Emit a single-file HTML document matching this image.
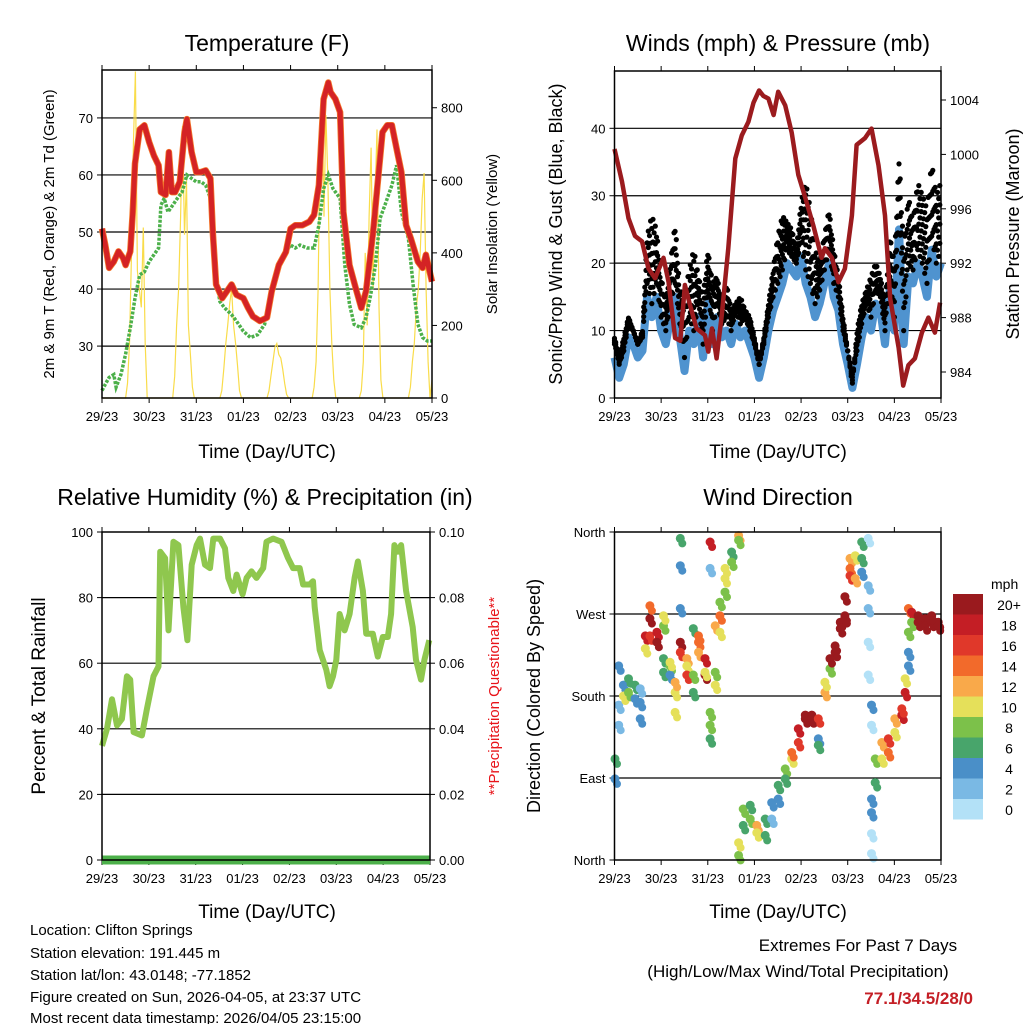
<!DOCTYPE html>
<html><head><meta charset="utf-8"><style>
body{margin:0;background:#fff}
svg{display:block;font-family:"Liberation Sans",sans-serif}
</style></head><body>
<svg id="s" width="1024" height="1024" viewBox="0 0 1024 1024" xmlns="http://www.w3.org/2000/svg">
<rect width="1024" height="1024" fill="#fff"/>
<text x="267" y="51" font-size="23" text-anchor="middle">Temperature (F)</text>
<text x="778" y="51" font-size="23" text-anchor="middle">Winds (mph) &amp; Pressure (mb)</text>
<text x="265" y="505" font-size="23" text-anchor="middle">Relative Humidity (%) &amp; Precipitation (in)</text>
<text x="778" y="505" font-size="23" text-anchor="middle">Wind Direction</text>
<g font-size="19" text-anchor="middle">
<text x="267" y="458">Time (Day/UTC)</text>
<text x="778" y="458">Time (Day/UTC)</text>
<text x="267" y="918">Time (Day/UTC)</text>
<text x="778" y="918">Time (Day/UTC)</text>
</g>
<text transform="translate(54,234) rotate(-90)" font-size="15" text-anchor="middle">2m &amp; 9m T (Red, Orange) &amp; 2m Td (Green)</text>
<text transform="translate(497,234) rotate(-90)" font-size="15" text-anchor="middle">Solar Insolation (Yellow)</text>
<text transform="translate(562,234) rotate(-90)" font-size="18" text-anchor="middle">Sonic/Prop Wind &amp; Gust (Blue, Black)</text>
<text transform="translate(1019,234) rotate(-90)" font-size="18" text-anchor="middle">Station Pressure (Maroon)</text>
<text transform="translate(45,696) rotate(-90)" font-size="19" text-anchor="middle">Percent &amp; Total Rainfall</text>
<text transform="translate(499,696) rotate(-90)" font-size="15" fill="#e8141a" text-anchor="middle">**Precipitation Questionable**</text>
<text transform="translate(540,696) rotate(-90)" font-size="18" text-anchor="middle">Direction (Colored By Speed)</text>
<g font-size="15">
<text x="30" y="935">Location: Clifton Springs</text>
<text x="30" y="958">Station elevation: 191.445 m</text>
<text x="30" y="980">Station lat/lon: 43.0148; -77.1852</text>
<text x="30" y="1002">Figure created on Sun, 2026-04-05, at 23:37 UTC</text>
<text x="30" y="1023">Most recent data timestamp: 2026/04/05 23:15:00</text>
</g>
<text x="858" y="951" font-size="17" text-anchor="middle">Extremes For Past 7 Days</text>
<text x="798" y="977" font-size="17" text-anchor="middle">(High/Low/Max Wind/Total Precipitation)</text>
<text x="973" y="1004" font-size="17" font-weight="bold" fill="#c41e25" text-anchor="end">77.1/34.5/28/0</text>
<text x="991" y="589" font-size="14">mph</text>
</svg>
<script>
const xDayLabels=["29/23","30/23","31/23","01/23","02/23","03/23","04/23","05/23"];
const tempDays=[0,0.07,0.15,0.25,0.35,0.45,0.5,0.6,0.65,0.7,0.8,0.9,1.0,1.1,1.2,1.25,1.35,1.42,1.48,1.55,1.65,1.75,1.8,1.9,2.0,2.1,2.2,2.3,2.35,2.42,2.55,2.65,2.75,2.85,3.0,3.1,3.2,3.35,3.5,3.6,3.75,3.9,4.0,4.1,4.25,4.4,4.5,4.6,4.7,4.8,4.85,4.95,5.05,5.12,5.25,5.4,5.5,5.6,5.75,5.85,5.95,6.05,6.15,6.25,6.35,6.45,6.55,6.7,6.8,6.87,6.95,7.0];
const tempVals=[50.6,47.7,43.7,44.8,46.6,45.4,44.2,46.6,53,62,68,68.7,65.8,63.4,61.7,57,56.5,64,57,57,58.8,67.5,69.8,64,60.5,60.5,60.8,59.4,50,40.8,38.4,39.6,40.8,39,38.4,36.7,35.2,34.4,35,39.6,44.2,46.5,50.6,51.2,51.2,51.8,53,58.2,73.3,76.2,74.5,73.3,71,53.5,44.2,39.6,36.7,39.6,50,58.8,67.5,68.7,68.7,64.6,60.5,51.2,48.9,44.8,43.7,46,43.1,41.3];
const dewDays=[0,0.07,0.15,0.25,0.3,0.4,0.5,0.6,0.7,0.8,0.9,1.0,1.1,1.2,1.25,1.32,1.4,1.5,1.6,1.7,1.8,1.9,2.0,2.1,2.2,2.3,2.35,2.42,2.5,2.6,2.75,2.85,3.0,3.15,3.3,3.45,3.6,3.75,3.85,4.0,4.1,4.2,4.35,4.5,4.6,4.7,4.8,4.9,5.05,5.15,5.25,5.35,5.5,5.6,5.7,5.8,5.9,6.0,6.15,6.25,6.35,6.5,6.6,6.7,6.8,6.9,7.0];
const dewVals=[22.2,23.3,24.5,25,22.8,25,28.6,33.2,38.4,42.5,43,44.8,46,47.2,54.7,55.9,53.5,54.7,55.9,57,60,59.4,58.8,58.8,58.2,55.9,50,42,37.8,36.7,35.5,34.4,32.6,31.5,32,33.8,39.6,44.2,46,47.7,47.2,47.7,47.2,47.2,51.2,57.6,60,57.6,55.9,44.2,37.3,33.8,33.2,35,39,44.2,52.4,54.7,58.2,61.7,53.5,48.9,40.8,33.8,31.5,30.9,30.9];
const solarHourly=[
0,0,0,0,0,0,0,0,0,0,0,0,0,40,150,400,700,900,350,300,250,470,150,0,
0,0,0,0,0,0,0,0,0,0,0,0,0,60,200,300,500,750,450,600,200,120,30,0,
0,0,0,0,0,0,0,0,0,0,0,0,0,20,80,150,200,260,300,200,150,90,20,0,
0,0,0,0,0,0,0,0,0,0,0,0,0,20,60,100,140,150,120,110,80,40,10,0,
0,0,0,0,0,0,0,0,0,0,0,0,30,100,300,700,830,500,780,600,300,150,50,0,
0,0,0,0,0,0,0,0,0,0,0,0,20,100,400,200,500,690,300,550,740,250,50,0,
0,0,0,0,0,0,0,0,0,0,0,0,0,30,100,150,250,300,400,550,620,300,100,0,50];
const windMean=[6,3,5,9,8,6,7,15,12,15,10,8,12,15,9,4,10,8,12,6,14,8,12,9,10,8,11,9,10,8,6,3,6,10,13,15,17,20,19,18,21,17,15,12,14,17,20,15,13,8,5,1.5,5,9,12,10,14,13,8,16,10,25,8,18,17,20,18,15,22,18,20];
const windGust=[9,6,9,12,10,8,10,24,27,25,18,14,20,26,16,15,19,22,18,15,22,17,18,14,17,13,14,15,13,12,9,5,9,14,19,24,27,26,25,22,29,32,28,22,20,24,28,22,18,12,7,2,10,14,16,18,20,18,14,24,20,36,22,30,26,32,30,28,35,30,32];
const presDays=[0,0.16,0.3,0.44,0.59,0.73,0.87,1.05,1.16,1.3,1.41,1.51,1.62,1.76,1.94,2.01,2.09,2.19,2.3,2.44,2.59,2.73,2.87,2.98,3.1,3.19,3.3,3.41,3.51,3.66,3.8,3.94,4.09,4.26,4.44,4.51,4.66,4.8,4.94,5.09,5.19,5.37,5.51,5.66,5.8,5.91,6.09,6.19,6.3,6.44,6.59,6.73,6.87,6.98];
const presVals=[1000.4,998,995.3,994,993.6,991.6,990.9,992.4,990.6,986.5,986.3,990.4,988.9,987.2,986.7,985.5,987.2,985,988.2,993.1,999.7,1001.4,1002.4,1003.8,1004.7,1004.3,1004.1,1002.9,1004.6,1003.6,1001.6,998.5,996.8,994.8,992.4,993.1,992.4,990.6,991.6,995.5,1000.7,1001.2,1001.9,999.2,995.5,989.4,985.8,983,984.5,985,986.9,988,986.9,989.1];
const rhZx=[5,20,35,50,65,80,90,100,125,140,160,175,180,195,205,220,235,250,262,275,290,300,315,330,340,360,375,385,400,410,428,440,455,470,490,500,520,545,565,580,600,610,630,640,645,660,680,690,700,710,720,735,750,765,775,790,800,820,835,850,865,875,885,895,905,920,940,950,965,975,990];
const rhVals=[34.8,40,49,41,43,56,55,39,38,46,56,59,94,92,70,97,96,77,67,90,96,98,90,89,98,98,95,86,82,87,81,86,88,86,89,97,98,97,92,89,89,84,84,85,77,64,58,53,56,61,75,70,75,86,91,82,69,69,62,68,68,75,96,94,96,82,71,61,55,61,67];
const precipVals=[0,0,0,0,0,0,0,0];
const dirDays=[0.01,0.01,0.09,0.09,0.09,0.19,0.19,0.3,0.3,0.44,0.44,0.55,0.55,0.55,0.66,0.66,0.76,0.76,0.76,0.91,0.91,1.05,1.05,1.05,1.05,1.19,1.19,1.19,1.3,1.3,1.3,1.41,1.41,1.41,1.41,1.41,1.55,1.55,1.55,1.69,1.69,1.69,1.8,1.8,1.8,1.94,1.94,1.94,2.05,2.05,2.05,2.05,2.05,2.16,2.16,2.16,2.26,2.26,2.26,2.37,2.37,2.37,2.51,2.51,2.66,2.66,2.66,2.66,2.76,2.76,2.91,2.91,3.05,3.05,3.23,3.23,3.37,3.37,3.51,3.51,3.66,3.66,3.8,3.8,3.94,3.94,4.09,4.09,4.23,4.23,4.37,4.37,4.37,4.51,4.51,4.62,4.62,4.73,4.73,4.84,4.84,4.94,4.94,4.94,5.05,5.05,5.05,5.16,5.16,5.3,5.3,5.3,5.44,5.44,5.44,5.44,5.44,5.51,5.51,5.51,5.51,5.51,5.51,5.59,5.59,5.73,5.73,5.87,5.87,6.01,6.01,6.16,6.16,6.23,6.23,6.3,6.3,6.3,6.3,6.37,6.37,6.51,6.51,6.66,6.66,6.8,6.8,6.94,6.94];
const dirVals=[111,89,148,170,213,192,180,199,184,192,177,155,173,188,246,232,265,246,279,250,239,257,221,206,268,213,203,217,184,162,195,239,228,276,353,323,221,213,203,184,203,254,239,228,246,221,203,206,162,148,133,349,320,206,192,257,268,250,283,320,309,294,338,327,356,351,5,19,38,56,60,45,38,30,45,27,63,45,82,67,100,89,111,118,129,144,155,159,159,155,155,133,126,184,195,210,221,235,228,254,261,268,265,289,331,320,312,309,334,331,316,349,301,276,239,203,353,170,148,67,52,29,7,111,85,129,111,118,133,140,155,159,166,184,199,213,228,250,276,272,261,268,261,265,257,261,268,261,257];
const dirSpeeds=[6,4,2,3,4,5,10,7,8,6,5,4,4,3,18,10,20,16,14,18,20,8,6,6,10,8,5,11,10,11,12,20,17,4,6,4,12,10,16,6,8,6,14,13,15,18,20,11,8,9,7,18,2,8,10,12,14,10,8,10,10,8,7,8,12,9,8,10,7,8,6,9,12,10,6,7,4,3,6,4,8,7,10,14,17,18,20,20,20,20,16,4,6,13,10,9,20,20,20,20,20,20,20,20,12,14,16,12,10,6,4,7,2,2,1,1,1,4,1,4,4,1,1,9,6,13,10,14,17,10,12,18,16,18,11,4,5,8,14,18,9,20,20,20,20,20,20,20,20];
const cbLabels=["20+","18","16","14","12","10","8","6","4","2","0"];
const cbColors=["#9a1a1e","#c41e25","#e0382a","#f26a2b","#f9a94a","#e5e05a","#7cc14a","#48a56b","#4a8fc8","#7ab9e4","#b3e1f7"];
const tempTicks=[30,40,50,60,70],solarTicks=[0,200,400,600,800],windTicks=[0,10,20,30,40],presTicks=[984,988,992,996,1000,1004],rhTicks=[0,20,40,60,80,100],precipTicks=["0.00","0.02","0.04","0.06","0.08","0.10"],dirLabels=["North","East","South","West","North"];

const S=document.getElementById('s'),NS='http://www.w3.org/2000/svg';
function mk(t,a,p){const e=document.createElementNS(NS,t);for(const k in a)e.setAttribute(k,a[k]);(p||S).appendChild(e);return e;}
function lin(d0,d1,r0,r1){return v=>r0+(v-d0)/(d1-d0)*(r1-r0);}
const P1={x0:102,x1:432,y0:70,y1:398},P2={x0:614.5,x1:941,y0:71,y1:398},P3={x0:102,x1:430,y0:532,y1:860},P4={x0:614.5,x1:941,y0:532,y1:860};
const xT=lin(0,7,P1.x0,P1.x1),yT=lin(20.9,78.4,P1.y1,P1.y0),ySol=lin(0,904,P1.y1,P1.y0);
const xW=lin(0,7,P2.x0,P2.x1),yW=lin(0,48.5,P2.y1,P2.y0),yP=lin(984,1004,372,100);
const xR=lin(0,7,P3.x0,P3.x1),yR=lin(0,100,P3.y1,P3.y0),yPr=lin(0,0.1,P3.y1,P3.y0);
const xD=lin(0,7,P4.x0,P4.x1),yD=lin(0,360,P4.y1,P4.y0);
function frame(P,nm){
  const g=mk('g',{});
  
  
  return g;}
function xAxis(P,xs,g){
  xDayLabels.forEach((l,i)=>{const x=xs(i);
    mk('line',{x1:x,x2:x,y1:P.y1,y2:P.y1+5,stroke:'#000'},g);
    mk('line',{x1:x,x2:x,y1:P.y0,y2:P.y0-5,stroke:'#000'},g);
    const t=mk('text',{x:x,y:P.y1+23,'font-size':13,'text-anchor':'middle'},g);t.textContent=l;
    
    });}
function yLeft(P,vals,ys,labels,g,grid){
  vals.forEach((v,i)=>{const y=ys(v);
    if(grid&&y>P.y0+2&&y<P.y1-2)mk('line',{x1:P.x0,x2:P.x1,y1:y,y2:y,stroke:'#000','stroke-width':1.2},g);
    mk('line',{x1:P.x0-5,x2:P.x0,y1:y,y2:y,stroke:'#000'},g);
    const t=mk('text',{x:P.x0-9,y:y+5,'font-size':13,'text-anchor':'end'},g);t.textContent=labels?labels[i]:v;
    
    });}
function yRight(P,vals,ys,labels,g){
  vals.forEach((v,i)=>{const y=ys(v);
    mk('line',{x1:P.x1,x2:P.x1+5,y1:y,y2:y,stroke:'#000'},g);
    const t=mk('text',{x:P.x1+9,y:y+5,'font-size':13},g);t.textContent=labels?labels[i]:v;
    
    });}
function box(P,g){mk('rect',{x:P.x0,y:P.y0,width:P.x1-P.x0,height:P.y1-P.y0,fill:'none',stroke:'#000','stroke-width':1.5},g);}
function pts(xs,ys,X,Y){return X.map((d,i)=>xs(d).toFixed(1)+','+ys(Y[i]).toFixed(1)).join(' ');}

let g=frame(P1,'temperature-panel');
yLeft(P1,tempTicks,yT,null,g,true);yRight(P1,solarTicks,ySol,null,g);xAxis(P1,xT,g);
let sd=solarHourly.map((v,i)=>i/24);
let e=mk('polyline',{points:pts(xT,ySol,sd,solarHourly),fill:'none',stroke:'#f9dc4a','stroke-width':1.2},g);


e=mk('polyline',{points:pts(xT,yT,dewDays,dewVals),fill:'none',stroke:'#4cb04a','stroke-width':3.5,'stroke-dasharray':'3 1.5'},g);


e=mk('polyline',{points:pts(xT,yT,tempDays,tempVals),fill:'none',stroke:'#f4792b','stroke-width':6.5,'stroke-linejoin':'round'},g);


e=mk('polyline',{points:pts(xT,yT,tempDays,tempVals),fill:'none',stroke:'#d42325','stroke-width':5,'stroke-linejoin':'round'},g);


box(P1,g);

g=frame(P2,'winds-panel');
yLeft(P2,windTicks,yW,null,g,true);yRight(P2,presTicks,yP,null,g);xAxis(P2,xW,g);
const wd=windMean.map((v,i)=>i/10);
e=mk('polyline',{points:pts(xW,yW,wd,windMean),fill:'none',stroke:'#4f93cf','stroke-width':8,'stroke-linejoin':'round'},g);


const gg=mk('g',{fill:'#000'},g);


for(let i=0;i<windGust.length-1;i++){for(let s=0;s<4;s++){const f=s/4,d=(i+f)/10;
  const m=windMean[i]+(windMean[i+1]-windMean[i])*f,gv=windGust[i]+(windGust[i+1]-windGust[i])*f;
  for(let k=0;k<=3;k++){const v=m+2+(gv-m-2)*((k+s%2*0.5)/3.5);
    mk('circle',{cx:xW(d).toFixed(1),cy:yW(v).toFixed(1),r:2.6},gg);}}}
e=mk('polyline',{points:pts(xW,yP,presDays,presVals),fill:'none',stroke:'#9b1b1e','stroke-width':4.5,'stroke-linejoin':'round'},g);


box(P2,g);

g=frame(P3,'humidity-panel');
yLeft(P3,rhTicks,yR,null,g,true);yRight(P3,precipTicks.map(Number),yPr,precipTicks,g);xAxis(P3,xR,g);
e=mk('polyline',{points:pts(xR,yR,rhZx.map(z=>(z-5)/141),rhVals),fill:'none',stroke:'#8fc74e','stroke-width':6,'stroke-linejoin':'round'},g);


e=mk('polyline',{points:pts(xR,yPr,precipVals.map((v,i)=>i),precipVals),fill:'none',stroke:'#4cb04a','stroke-width':9},g);


box(P3,g);

g=frame(P4,'wind-direction-panel');
yLeft(P4,[0,90,180,270,360],yD,dirLabels,g,true);xAxis(P4,xD,g);
const dg=mk('g',{},g);
dirDays.forEach((d,i)=>{const c=cbColors[10-Math.min(10,Math.floor(dirSpeeds[i]/2))];
  const el=mk('circle',{cx:xD(d).toFixed(1),cy:yD(dirVals[i]).toFixed(1),r:4.5,fill:c},dg);
  
  
  mk('circle',{cx:(xD(d)+2).toFixed(1),cy:(yD(dirVals[i])+5).toFixed(1),r:4,fill:c},dg);});
box(P4,g);
const cb=mk('g',{});


cbLabels.forEach((l,i)=>{const y=594+i*20.5;
  mk('rect',{x:953,y:y,width:30,height:20.5,fill:cbColors[i]},cb);
  const t=mk('text',{x:1009,y:y+16,'font-size':14,'text-anchor':'middle'},cb);t.textContent=l;
  
  });
</script>
</body></html>
